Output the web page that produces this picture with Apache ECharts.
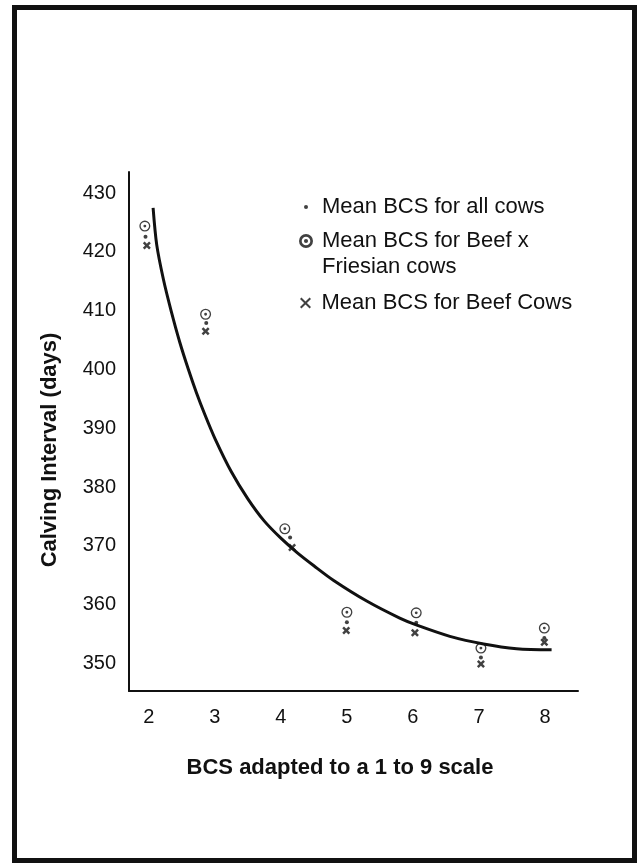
<!DOCTYPE html>
<html>
<head>
<meta charset="utf-8">
<script src="https://cdn.jsdelivr.net/npm/echarts@6/dist/echarts.min.js"></script>
<style>
  html, body { margin: 0; padding: 0; background: #fff; }
  #chart { width: 638px; height: 863px; }
</style>
</head>
<body>
<div id="chart"></div>
<script>
const FONT = '"Liberation Sans", Arial, Helvetica, sans-serif';
const INK = "#111";

// tick labels
const xTicks = [2, 3, 4, 5, 6, 7, 8];
const yTicks = [350, 360, 370, 380, 390, 400, 410, 420, 430];

// fitted curve
const curveX = [2.065, 2.12, 2.22, 2.34, 2.47, 2.6, 2.72, 2.85, 3.0, 3.25, 3.5, 3.75, 4.0, 4.25, 4.5, 4.8, 5.3, 5.8, 6.06, 6.56, 7.07, 7.57, 8.1];
const curveY = [427.5, 421.2, 415.4, 409.9, 404.6, 400.0, 396.1, 392.3, 388.3, 382.6, 378.0, 374.2, 371.3, 368.8, 366.6, 364.1, 360.6, 357.7, 356.5, 354.6, 353.3, 352.5, 352.3];

// mean BCS points
const allX = [1.95, 2.87, 4.14, 5.0, 6.05, 7.03, 7.99];
const allY = [422.6, 407.9, 371.4, 357.0, 356.9, 351.0, 354.3];
const friesianX = [1.94, 2.86, 4.06, 5.0, 6.05, 7.03, 7.99];
const friesianY = [424.4, 409.4, 372.9, 358.7, 358.6, 352.6, 356.0];
const beefX = [1.97, 2.86, 4.17, 4.99, 6.03, 7.03, 7.99];
const beefY = [421.1, 406.5, 369.7, 355.6, 355.2, 349.9, 353.6];

const NAMES = ["Mean BCS for all cows", "Mean BCS for Beef x Friesian cows", "Mean BCS for Beef Cows"];

const zip = (xs, ys) => xs.map((x, i) => [x, ys[i]]);

// ring with a dot in the middle (outer cw, inner ccw = hole, dot cw)
function ringPath(r, inner, dot) {
    return "path://" +
        `M0,${-r}A${r},${r} 0 1,1 0,${r}A${r},${r} 0 1,1 0,${-r}Z` +
        `M0,${-inner}A${inner},${inner} 0 1,0 0,${inner}A${inner},${inner} 0 1,0 0,${-inner}Z` +
        `M0,${-dot}A${dot},${dot} 0 1,1 0,${dot}A${dot},${dot} 0 1,1 0,${-dot}Z`;
}

// filled X shape in a 10x10 box, arm thickness t
function crossPath(t) {
    const p = [[0, t], [t, 0], [5, 5 - t], [10 - t, 0], [10, t], [5 + t, 5],
        [10, 10 - t], [10 - t, 10], [5, 5 + t], [t, 10], [0, 10 - t], [5 - t, 5]];
    return "path://M" + p.map((q) => q.join(",")).join("L") + "Z";
}

const legendText = { fontFamily: FONT, fontSize: 22, color: INK, lineHeight: 26 };

const chart = echarts.init(document.getElementById("chart"));

chart.setOption({
    backgroundColor: "#fff",
    animation: false,
    grid: { left: 129, right: 60, top: 172, bottom: 172 },
    xAxis: {
        type: "value",
        min: 1.7,
        max: 8.5,
        axisLine: { show: true, lineStyle: { color: INK, width: 2 } },
        axisTick: { show: false },
        splitLine: { show: false },
        axisLabel: { customValues: xTicks, fontFamily: FONT, fontSize: 20, color: INK, margin: 16 },
    },
    yAxis: {
        type: "value",
        min: 345.3,
        max: 433.6,
        axisLine: { show: true, lineStyle: { color: INK, width: 2 } },
        axisTick: { show: false },
        splitLine: { show: false },
        axisLabel: { customValues: yTicks, fontFamily: FONT, fontSize: 20, color: INK, margin: 13 },
    },
    legend: [
        {
            data: [{ name: NAMES[0], icon: "circle" }],
            left: 304, top: 194, padding: 0, itemWidth: 22, itemHeight: 4,
            selectedMode: false, textStyle: legendText,
        },
        {
            data: [{ name: NAMES[1], icon: ringPath(6.5, 4.0, 1.9) }],
            left: 299, top: 202, padding: 0, itemWidth: 22, itemHeight: 14,
            selectedMode: false,
            // blank first line keeps the icon level with the first text line
            formatter: () => "\nMean BCS for Beef x\nFriesian cows",
            textStyle: legendText,
        },
        {
            data: [{ name: NAMES[2], icon: crossPath(1.3) }],
            left: 300, top: 290, padding: 0, itemWidth: 22, itemHeight: 11,
            selectedMode: false, textStyle: legendText,
        },
    ],
    series: [
        {
            type: "line",
            data: zip(curveX, curveY),
            smooth: 0.3,
            showSymbol: false,
            silent: true,
            lineStyle: { color: INK, width: 3 },
        },
        {
            name: NAMES[0],
            type: "scatter",
            data: zip(allX, allY),
            symbol: "circle",
            symbolSize: 4,
            itemStyle: { color: INK },
        },
        {
            name: NAMES[1],
            type: "scatter",
            data: zip(friesianX, friesianY),
            symbol: ringPath(5, 3.8, 1.3),
            symbolSize: 11,
            itemStyle: { color: INK },
        },
        {
            name: NAMES[2],
            type: "scatter",
            data: zip(beefX, beefY),
            symbol: crossPath(2.2),
            symbolSize: 8,
            itemStyle: { color: INK },
        },
    ],
    graphic: [
        {
            type: "rect",
            shape: { x: 14.5, y: 7.5, width: 620, height: 853 },
            style: { fill: null, stroke: INK, lineWidth: 5 },
            silent: true,
        },
        {
            type: "text",
            x: 340,
            y: 768,
            style: {
                text: "BCS adapted to a 1 to 9 scale",
                font: `bold 22px ${FONT}`,
                fill: INK,
                align: "center",
                verticalAlign: "middle",
            },
        },
        {
            type: "text",
            x: 50,
            y: 450,
            rotation: Math.PI / 2,
            style: {
                text: "Calving Interval (days)",
                font: `bold 22px ${FONT}`,
                fill: INK,
                align: "center",
                verticalAlign: "middle",
            },
        },
    ],
});
</script>
</body>
</html>
